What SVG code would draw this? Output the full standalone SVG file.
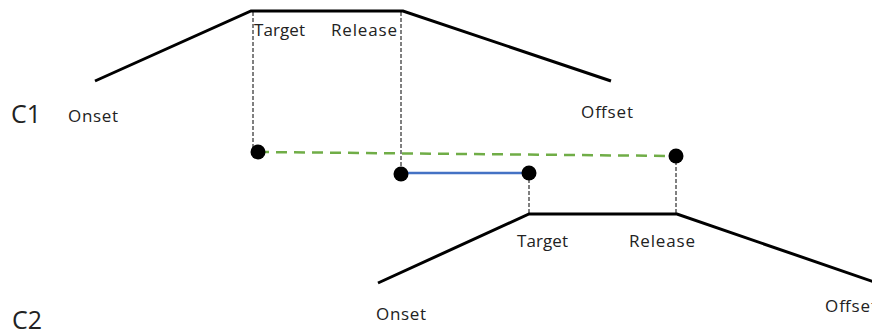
<svg xmlns="http://www.w3.org/2000/svg" width="872" height="335" viewBox="0 0 872 335">
  <style>
    .curve { fill: none; stroke: #000; stroke-width: 3; stroke-linejoin: miter; }
    .guide { fill: none; stroke: #000; stroke-width: 1; stroke-dasharray: 4 2; }
    .green { fill: none; stroke: #70ad47; stroke-width: 2.5; stroke-dasharray: 11 7; }
    .blue { fill: none; stroke: #4472c4; stroke-width: 2.5; }
    .dot { fill: #000; }
    text { font-family: "Open Sans", "Noto Sans", sans-serif; fill: #222; }
    .lbl { font-size: 17px; }
    .big { font-size: 25px; }
  </style>
  <rect width="872" height="335" fill="#fff"/>

  <!-- gesture C1 -->
  <g id="c1">
    <polyline class="curve" points="95,81 251,11 403,11 611,81"/>
    <text class="big" x="11" y="123">C1</text>
    <text class="lbl" x="68" y="122" textLength="50">Onset</text>
    <text class="lbl" x="254" y="36" textLength="51">Target</text>
    <text class="lbl" x="331" y="36" textLength="66">Release</text>
    <text class="lbl" x="581" y="118" textLength="52">Offset</text>
  </g>

  <!-- gesture C2 -->
  <g id="c2">
    <polyline class="curve" points="378,283 529,214 677,214 880,284"/>
    <text class="big" x="12" y="329">C2</text>
    <text class="lbl" x="376" y="320" textLength="50">Onset</text>
    <text class="lbl" x="517" y="247" textLength="51">Target</text>
    <text class="lbl" x="629" y="247" textLength="66">Release</text>
    <text class="lbl" x="825" y="312" textLength="52">Offset</text>
  </g>

  <!-- connectors: guides and intervals -->
  <g id="connectors">
    <line class="guide" x1="253" y1="12" x2="253" y2="152"/>
    <line class="guide" x1="401" y1="12" x2="401" y2="174"/>
    <line class="guide" x1="529" y1="173" x2="529" y2="214"/>
    <line class="guide" x1="676" y1="155" x2="676" y2="214"/>
    <line class="green" x1="258" y1="152" x2="676" y2="156"/>
    <line class="blue" x1="401" y1="173" x2="529" y2="173"/>
  </g>

  <g id="points">
    <circle class="dot" cx="258" cy="152" r="7.5"/>
    <circle class="dot" cx="676" cy="156" r="7.5"/>
    <circle class="dot" cx="401" cy="174" r="7.5"/>
    <circle class="dot" cx="529" cy="173" r="7.5"/>
  </g>
</svg>
